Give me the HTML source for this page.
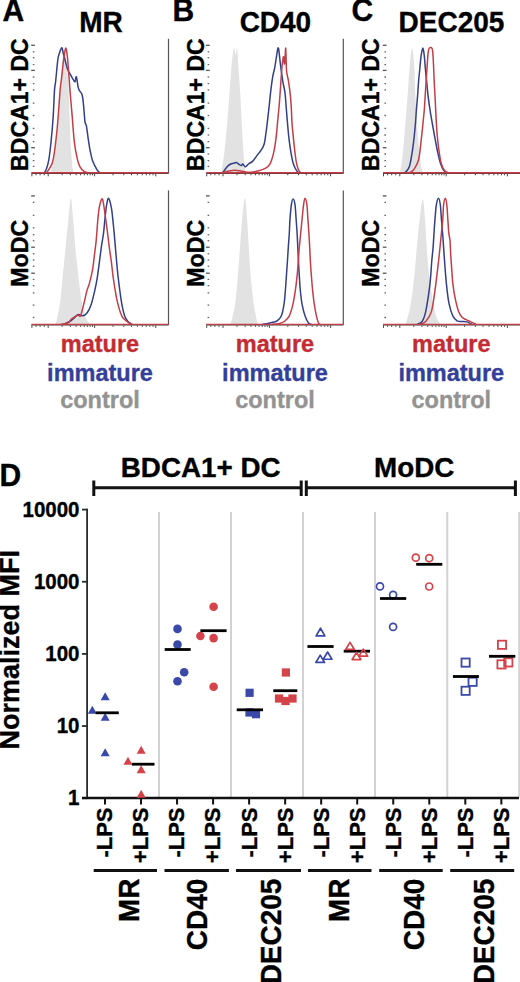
<!DOCTYPE html><html><head><meta charset="utf-8"><style>html,body{margin:0;padding:0;background:#fff;width:520px;height:982px;overflow:hidden}svg{display:block}text{font-family:"Liberation Sans",sans-serif;font-weight:bold}</style></head><body>
<svg width="520" height="982" viewBox="0 0 520 982">
<rect width="520" height="982" fill="#fff"/>
<text transform="translate(2.6,20.8) scale(1,1.04)" font-size="30" text-anchor="start" fill="#000" stroke="#000" stroke-width="0.35">A</text>
<text transform="translate(172.6,20.8) scale(1,1.04)" font-size="30" text-anchor="start" fill="#000" stroke="#000" stroke-width="0.35">B</text>
<text transform="translate(351.6,20.8) scale(1,1.04)" font-size="30" text-anchor="start" fill="#000" stroke="#000" stroke-width="0.35">C</text>
<text transform="translate(-0.5,485.6) scale(1,1.04)" font-size="30" text-anchor="start" fill="#000" stroke="#000" stroke-width="0.35">D</text>
<text transform="translate(101,31.8) scale(1,1.04)" font-size="28" text-anchor="middle" fill="#000" stroke="#000" stroke-width="0.35">MR</text>
<text transform="translate(275.4,31.8) scale(1,1.04)" font-size="28" text-anchor="middle" fill="#000" stroke="#000" stroke-width="0.35">CD40</text>
<text transform="translate(451.5,31.8) scale(1,1.04)" font-size="28" text-anchor="middle" fill="#000" stroke="#000" stroke-width="0.35">DEC205</text>
<text transform="translate(27.9,104.6) rotate(-90) scale(1,1)" font-size="23" text-anchor="middle" fill="#000" stroke="#000" stroke-width="0.35" textLength="132.6" lengthAdjust="spacingAndGlyphs">BDCA1+ DC</text>
<text transform="translate(28.2,253.3) rotate(-90) scale(1,1)" font-size="23.2" text-anchor="middle" fill="#000" stroke="#000" stroke-width="0.35">MoDC</text>
<text transform="translate(203.7,104.6) rotate(-90) scale(1,1)" font-size="23" text-anchor="middle" fill="#000" stroke="#000" stroke-width="0.35" textLength="132.6" lengthAdjust="spacingAndGlyphs">BDCA1+ DC</text>
<text transform="translate(204,253.3) rotate(-90) scale(1,1)" font-size="23.2" text-anchor="middle" fill="#000" stroke="#000" stroke-width="0.35">MoDC</text>
<text transform="translate(379.1,104.6) rotate(-90) scale(1,1)" font-size="23" text-anchor="middle" fill="#000" stroke="#000" stroke-width="0.35" textLength="132.6" lengthAdjust="spacingAndGlyphs">BDCA1+ DC</text>
<text transform="translate(379.4,253.3) rotate(-90) scale(1,1)" font-size="23.2" text-anchor="middle" fill="#000" stroke="#000" stroke-width="0.35">MoDC</text>
<path d="M50.5 172.8 C51 170.63 52.33 167.05 53.5 159.8 C54.67 152.55 56.37 140.8 57.5 129.3 C58.63 117.8 59.55 101.05 60.3 90.8 C61.05 80.55 61.45 74.8 62 67.8 C62.55 60.8 63.02 50.97 63.6 48.8 C64.18 46.63 64.85 50.8 65.5 54.8 C66.15 58.8 66.97 66.8 67.5 72.8 C68.03 78.8 68.35 83.47 68.7 90.8 C69.05 98.13 69.28 108.13 69.6 116.8 C69.92 125.47 70.23 135.63 70.6 142.8 C70.97 149.97 71.4 155.13 71.8 159.8 C72.2 164.47 72.63 168.63 73 170.8 C73.37 172.8 73.83 172.47 74 172.8 Z" fill="#e2e2e2"/>
<line x1="31.4" y1="173.4" x2="168.5" y2="173.4" stroke="#3a3a3a" stroke-width="1.2"/>
<line x1="31.9" y1="173.8" x2="31.9" y2="176.3" stroke="#444" stroke-width="1"/>
<line x1="36" y1="173.8" x2="36" y2="175.3" stroke="#444" stroke-width="1"/>
<line x1="40.1" y1="173.8" x2="40.1" y2="175.3" stroke="#444" stroke-width="1"/>
<line x1="44.2" y1="173.8" x2="44.2" y2="175.3" stroke="#444" stroke-width="1"/>
<line x1="48.2" y1="173.8" x2="48.2" y2="176.3" stroke="#444" stroke-width="1"/>
<line x1="62.17" y1="173.8" x2="62.17" y2="175.3" stroke="#444" stroke-width="1"/>
<line x1="70.34" y1="173.8" x2="70.34" y2="175.3" stroke="#444" stroke-width="1"/>
<line x1="76.14" y1="173.8" x2="76.14" y2="175.3" stroke="#444" stroke-width="1"/>
<line x1="80.63" y1="173.8" x2="80.63" y2="175.3" stroke="#444" stroke-width="1"/>
<line x1="84.31" y1="173.8" x2="84.31" y2="175.3" stroke="#444" stroke-width="1"/>
<line x1="87.41" y1="173.8" x2="87.41" y2="175.3" stroke="#444" stroke-width="1"/>
<line x1="90.1" y1="173.8" x2="90.1" y2="175.3" stroke="#444" stroke-width="1"/>
<line x1="92.48" y1="173.8" x2="92.48" y2="175.3" stroke="#444" stroke-width="1"/>
<line x1="94.6" y1="173.8" x2="94.6" y2="176.3" stroke="#444" stroke-width="1"/>
<line x1="113.02" y1="173.8" x2="113.02" y2="175.3" stroke="#444" stroke-width="1"/>
<line x1="123.8" y1="173.8" x2="123.8" y2="175.3" stroke="#444" stroke-width="1"/>
<line x1="131.45" y1="173.8" x2="131.45" y2="175.3" stroke="#444" stroke-width="1"/>
<line x1="137.38" y1="173.8" x2="137.38" y2="175.3" stroke="#444" stroke-width="1"/>
<line x1="142.22" y1="173.8" x2="142.22" y2="175.3" stroke="#444" stroke-width="1"/>
<line x1="146.32" y1="173.8" x2="146.32" y2="175.3" stroke="#444" stroke-width="1"/>
<line x1="149.87" y1="173.8" x2="149.87" y2="175.3" stroke="#444" stroke-width="1"/>
<line x1="153" y1="173.8" x2="153" y2="175.3" stroke="#444" stroke-width="1"/>
<line x1="155.8" y1="173.8" x2="155.8" y2="176.3" stroke="#444" stroke-width="1"/>
<line x1="31.2" y1="45.3" x2="34.9" y2="45.3" stroke="#555" stroke-width="1.3"/>
<line x1="32.8" y1="51.8" x2="34.4" y2="51.8" stroke="#666" stroke-width="1.3"/>
<line x1="32.8" y1="57.7" x2="34.4" y2="57.7" stroke="#666" stroke-width="1.3"/>
<line x1="32.8" y1="64.6" x2="34.4" y2="64.6" stroke="#666" stroke-width="1.3"/>
<line x1="31.2" y1="70.4" x2="34.9" y2="70.4" stroke="#555" stroke-width="1.3"/>
<line x1="32.8" y1="77" x2="34.4" y2="77" stroke="#666" stroke-width="1.3"/>
<line x1="32.8" y1="83.6" x2="34.4" y2="83.6" stroke="#666" stroke-width="1.3"/>
<line x1="32.8" y1="89.9" x2="34.4" y2="89.9" stroke="#666" stroke-width="1.3"/>
<line x1="32.8" y1="103.1" x2="34.4" y2="103.1" stroke="#666" stroke-width="1.3"/>
<line x1="32.8" y1="115.5" x2="34.4" y2="115.5" stroke="#666" stroke-width="1.3"/>
<line x1="32.8" y1="128.4" x2="34.4" y2="128.4" stroke="#666" stroke-width="1.3"/>
<line x1="32.8" y1="135" x2="34.4" y2="135" stroke="#666" stroke-width="1.3"/>
<line x1="32.8" y1="141.6" x2="34.4" y2="141.6" stroke="#666" stroke-width="1.3"/>
<line x1="31.2" y1="147.7" x2="34.9" y2="147.7" stroke="#555" stroke-width="1.3"/>
<line x1="32.8" y1="154" x2="34.4" y2="154" stroke="#666" stroke-width="1.3"/>
<line x1="32.8" y1="160.6" x2="34.4" y2="160.6" stroke="#666" stroke-width="1.3"/>
<line x1="32.8" y1="166.4" x2="34.4" y2="166.4" stroke="#666" stroke-width="1.3"/>
<line x1="168.5" y1="38.8" x2="168.5" y2="173.4" stroke="#555" stroke-width="1.2"/>
<path d="M44.3 172.8 C44.67 172.13 45.73 171.03 46.5 168.8 C47.27 166.57 48.15 163.82 48.9 159.4 C49.65 154.98 50.28 149.47 51 142.3 C51.72 135.13 52.62 125.05 53.2 116.4 C53.78 107.75 54.08 96.33 54.5 90.4 C54.92 84.47 55.15 85.9 55.7 80.8 C56.25 75.7 57.22 64.3 57.8 59.8 C58.38 55.3 58.55 55.8 59.2 53.8 C59.85 51.8 61.05 47.97 61.7 47.8 C62.35 47.63 62.55 50.8 63.1 52.8 C63.65 54.8 64.28 57.13 65 59.8 C65.72 62.47 66.57 66.47 67.4 68.8 C68.23 71.13 69.1 72.13 70 73.8 C70.9 75.47 71.97 77.47 72.8 78.8 C73.63 80.13 74.4 82.13 75 81.8 C75.6 81.47 75.8 75.63 76.4 76.8 C77 77.97 77.65 85.8 78.6 88.8 C79.55 91.8 81.27 91.97 82.1 94.8 C82.93 97.63 83.12 101.3 83.6 105.8 C84.08 110.3 84.53 118.47 85 121.8 C85.47 125.13 85.93 123.47 86.4 125.8 C86.87 128.13 87.2 131.8 87.8 135.8 C88.4 139.8 89.17 145.55 90 149.8 C90.83 154.05 91.62 157.97 92.8 161.3 C93.98 164.63 95.9 167.88 97.1 169.8 C98.3 171.72 99.52 172.3 100 172.8" fill="none" stroke="#333f88" stroke-width="1.5" stroke-linejoin="round"/>
<path d="M46.4 172.8 C46.95 172.03 48.57 170.43 49.7 168.2 C50.83 165.97 51.97 165.88 53.2 159.4 C54.43 152.92 55.95 140.8 57.1 129.3 C58.25 117.8 59.35 98.98 60.1 90.4 C60.85 81.82 61.02 82.9 61.6 77.8 C62.18 72.7 62.92 64.75 63.6 59.8 C64.28 54.85 65.07 48.57 65.7 48.1 C66.33 47.63 66.87 52.45 67.4 57 C67.93 61.55 68.47 69.83 68.9 75.4 C69.33 80.97 69.45 83.57 70 90.4 C70.55 97.23 71.47 107.75 72.2 116.4 C72.93 125.05 73.53 135.13 74.4 142.3 C75.27 149.47 76.47 155.32 77.4 159.4 C78.33 163.48 78.9 164.82 80 166.8 C81.1 168.78 82.67 170.3 84 171.3 C85.33 172.3 87.33 172.55 88 172.8" fill="none" stroke="#c33d47" stroke-width="1.5" stroke-linejoin="round"/>
<line x1="31.4" y1="172.8" x2="168.5" y2="172.8" stroke="#c33d47" stroke-width="1.4"/>
<path d="M221.4 172.8 C221.88 169.47 223.35 160.93 224.3 152.8 C225.25 144.67 226.27 133.5 227.1 124 C227.93 114.5 228.58 105.33 229.3 95.8 C230.02 86.27 230.7 74.47 231.4 66.8 C232.1 59.13 233.02 52.87 233.5 49.8 C233.98 46.73 233.93 47.57 234.3 48.4 C234.67 49.23 235.23 54.8 235.7 54.8 C236.17 54.8 236.63 46.4 237.1 48.4 C237.57 50.4 237.95 58.9 238.5 66.8 C239.05 74.7 239.85 86.27 240.4 95.8 C240.95 105.33 241.28 114.5 241.8 124 C242.32 133.5 242.97 145.5 243.5 152.8 C244.03 160.1 244.63 164.47 245 167.8 C245.37 171.13 245.58 171.97 245.7 172.8 Z" fill="#e2e2e2"/>
<line x1="206.2" y1="173.4" x2="343.3" y2="173.4" stroke="#3a3a3a" stroke-width="1.2"/>
<line x1="206.7" y1="173.8" x2="206.7" y2="176.3" stroke="#444" stroke-width="1"/>
<line x1="210.8" y1="173.8" x2="210.8" y2="175.3" stroke="#444" stroke-width="1"/>
<line x1="214.9" y1="173.8" x2="214.9" y2="175.3" stroke="#444" stroke-width="1"/>
<line x1="219" y1="173.8" x2="219" y2="175.3" stroke="#444" stroke-width="1"/>
<line x1="223" y1="173.8" x2="223" y2="176.3" stroke="#444" stroke-width="1"/>
<line x1="236.97" y1="173.8" x2="236.97" y2="175.3" stroke="#444" stroke-width="1"/>
<line x1="245.14" y1="173.8" x2="245.14" y2="175.3" stroke="#444" stroke-width="1"/>
<line x1="250.94" y1="173.8" x2="250.94" y2="175.3" stroke="#444" stroke-width="1"/>
<line x1="255.43" y1="173.8" x2="255.43" y2="175.3" stroke="#444" stroke-width="1"/>
<line x1="259.11" y1="173.8" x2="259.11" y2="175.3" stroke="#444" stroke-width="1"/>
<line x1="262.21" y1="173.8" x2="262.21" y2="175.3" stroke="#444" stroke-width="1"/>
<line x1="264.9" y1="173.8" x2="264.9" y2="175.3" stroke="#444" stroke-width="1"/>
<line x1="267.28" y1="173.8" x2="267.28" y2="175.3" stroke="#444" stroke-width="1"/>
<line x1="269.4" y1="173.8" x2="269.4" y2="176.3" stroke="#444" stroke-width="1"/>
<line x1="287.82" y1="173.8" x2="287.82" y2="175.3" stroke="#444" stroke-width="1"/>
<line x1="298.6" y1="173.8" x2="298.6" y2="175.3" stroke="#444" stroke-width="1"/>
<line x1="306.25" y1="173.8" x2="306.25" y2="175.3" stroke="#444" stroke-width="1"/>
<line x1="312.18" y1="173.8" x2="312.18" y2="175.3" stroke="#444" stroke-width="1"/>
<line x1="317.02" y1="173.8" x2="317.02" y2="175.3" stroke="#444" stroke-width="1"/>
<line x1="321.12" y1="173.8" x2="321.12" y2="175.3" stroke="#444" stroke-width="1"/>
<line x1="324.67" y1="173.8" x2="324.67" y2="175.3" stroke="#444" stroke-width="1"/>
<line x1="327.8" y1="173.8" x2="327.8" y2="175.3" stroke="#444" stroke-width="1"/>
<line x1="330.6" y1="173.8" x2="330.6" y2="176.3" stroke="#444" stroke-width="1"/>
<line x1="206" y1="45.3" x2="209.7" y2="45.3" stroke="#555" stroke-width="1.3"/>
<line x1="207.6" y1="51.8" x2="209.2" y2="51.8" stroke="#666" stroke-width="1.3"/>
<line x1="207.6" y1="57.7" x2="209.2" y2="57.7" stroke="#666" stroke-width="1.3"/>
<line x1="207.6" y1="64.6" x2="209.2" y2="64.6" stroke="#666" stroke-width="1.3"/>
<line x1="206" y1="70.4" x2="209.7" y2="70.4" stroke="#555" stroke-width="1.3"/>
<line x1="207.6" y1="77" x2="209.2" y2="77" stroke="#666" stroke-width="1.3"/>
<line x1="207.6" y1="83.6" x2="209.2" y2="83.6" stroke="#666" stroke-width="1.3"/>
<line x1="207.6" y1="89.9" x2="209.2" y2="89.9" stroke="#666" stroke-width="1.3"/>
<line x1="207.6" y1="103.1" x2="209.2" y2="103.1" stroke="#666" stroke-width="1.3"/>
<line x1="207.6" y1="115.5" x2="209.2" y2="115.5" stroke="#666" stroke-width="1.3"/>
<line x1="207.6" y1="128.4" x2="209.2" y2="128.4" stroke="#666" stroke-width="1.3"/>
<line x1="207.6" y1="135" x2="209.2" y2="135" stroke="#666" stroke-width="1.3"/>
<line x1="207.6" y1="141.6" x2="209.2" y2="141.6" stroke="#666" stroke-width="1.3"/>
<line x1="206" y1="147.7" x2="209.7" y2="147.7" stroke="#555" stroke-width="1.3"/>
<line x1="207.6" y1="154" x2="209.2" y2="154" stroke="#666" stroke-width="1.3"/>
<line x1="207.6" y1="160.6" x2="209.2" y2="160.6" stroke="#666" stroke-width="1.3"/>
<line x1="207.6" y1="166.4" x2="209.2" y2="166.4" stroke="#666" stroke-width="1.3"/>
<line x1="343.3" y1="38.8" x2="343.3" y2="173.4" stroke="#555" stroke-width="1.2"/>
<path d="M222.8 172.8 C223.52 171.8 225.78 168.27 227.1 166.8 C228.42 165.33 229.63 164.58 230.7 164 C231.77 163.42 232.55 163.55 233.5 163.3 C234.45 163.05 235.48 162.33 236.4 162.5 C237.32 162.67 238.17 163.78 239 164.3 C239.83 164.82 240.77 165.65 241.4 165.6 C242.03 165.55 242.15 163.8 242.8 164 C243.45 164.2 244.35 166.8 245.3 166.8 C246.25 166.8 247.25 164.95 248.5 164 C249.75 163.05 251.37 162.53 252.8 161.1 C254.23 159.67 255.68 157.28 257.1 155.4 C258.52 153.52 260.12 151.7 261.3 149.8 C262.48 147.9 263.42 146.83 264.2 144 C264.98 141.17 265.4 137.08 266 132.8 C266.6 128.52 267.22 123.3 267.8 118.3 C268.38 113.3 268.97 107.72 269.5 102.8 C270.03 97.88 270.47 93.13 271 88.8 C271.53 84.47 272.05 80.47 272.7 76.8 C273.35 73.13 274.25 70.3 274.9 66.8 C275.55 63.3 276.02 58.92 276.6 55.8 C277.18 52.68 277.75 46.6 278.4 48.1 C279.05 49.6 279.75 59.18 280.5 64.8 C281.25 70.42 282.15 77.13 282.9 81.8 C283.65 86.47 284.42 88.13 285 92.8 C285.58 97.47 285.97 104.55 286.4 109.8 C286.83 115.05 287.17 119.47 287.6 124.3 C288.03 129.13 288.43 134.05 289 138.8 C289.57 143.55 290.25 148.57 291 152.8 C291.75 157.03 292.48 161.1 293.5 164.2 C294.52 167.3 296.13 169.97 297.1 171.4 C298.07 172.8 298.93 172.57 299.3 172.8" fill="none" stroke="#333f88" stroke-width="1.5" stroke-linejoin="round"/>
<path d="M222 172.8 C223 172.55 225.83 171.72 228 171.3 C230.17 170.88 232.67 170.3 235 170.3 C237.33 170.3 239.5 170.97 242 171.3 C244.5 171.63 247.37 172.33 250 172.3 C252.63 172.27 255.2 171.78 257.8 171.1 C260.4 170.42 263.57 169.42 265.6 168.2 C267.63 166.98 268.67 166.37 270 163.8 C271.33 161.23 272.6 157.05 273.6 152.8 C274.6 148.55 275.37 143.1 276 138.3 C276.63 133.5 276.83 129.92 277.4 124 C277.97 118.08 278.82 109.92 279.4 102.8 C279.98 95.68 280.47 87.3 280.9 81.3 C281.33 75.3 281.67 70.38 282 66.8 C282.33 63.22 282.63 61.47 282.9 59.8 C283.17 58.13 283.32 56.13 283.6 56.8 C283.88 57.47 284.25 65.25 284.6 63.8 C284.95 62.35 285.4 47.27 285.7 48.1 C286 48.93 286.17 64.42 286.4 68.8 C286.63 73.18 286.73 72.23 287.1 74.4 C287.47 76.57 288.05 78.23 288.6 81.8 C289.15 85.37 289.93 91.13 290.4 95.8 C290.87 100.47 291.12 105.05 291.4 109.8 C291.68 114.55 291.75 119.47 292.1 124.3 C292.45 129.13 293.02 134.05 293.5 138.8 C293.98 143.55 294.47 148.57 295 152.8 C295.53 157.03 295.98 161.1 296.7 164.2 C297.42 167.3 298.42 169.97 299.3 171.4 C300.18 172.8 301.55 172.57 302 172.8" fill="none" stroke="#c33d47" stroke-width="1.5" stroke-linejoin="round"/>
<line x1="206.2" y1="172.8" x2="343.3" y2="172.8" stroke="#c33d47" stroke-width="1.4"/>
<path d="M400 172.8 C400.48 169.47 402.02 160.93 402.9 152.8 C403.78 144.67 404.52 133.5 405.3 124 C406.08 114.5 406.87 105.33 407.6 95.8 C408.33 86.27 408.95 74.75 409.7 66.8 C410.45 58.85 411.33 48.1 412.1 48.1 C412.87 48.1 413.75 58.85 414.3 66.8 C414.85 74.75 414.93 86.27 415.4 95.8 C415.87 105.33 416.45 114.5 417.1 124 C417.75 133.5 418.58 145.62 419.3 152.8 C420.02 159.98 420.8 163.77 421.4 167.1 C422 170.43 422.65 171.85 422.9 172.8 Z" fill="#e2e2e2"/>
<line x1="383" y1="173.4" x2="520" y2="173.4" stroke="#3a3a3a" stroke-width="1.2"/>
<line x1="383.5" y1="173.8" x2="383.5" y2="176.3" stroke="#444" stroke-width="1"/>
<line x1="387.6" y1="173.8" x2="387.6" y2="175.3" stroke="#444" stroke-width="1"/>
<line x1="391.7" y1="173.8" x2="391.7" y2="175.3" stroke="#444" stroke-width="1"/>
<line x1="395.8" y1="173.8" x2="395.8" y2="175.3" stroke="#444" stroke-width="1"/>
<line x1="399.8" y1="173.8" x2="399.8" y2="176.3" stroke="#444" stroke-width="1"/>
<line x1="413.77" y1="173.8" x2="413.77" y2="175.3" stroke="#444" stroke-width="1"/>
<line x1="421.94" y1="173.8" x2="421.94" y2="175.3" stroke="#444" stroke-width="1"/>
<line x1="427.74" y1="173.8" x2="427.74" y2="175.3" stroke="#444" stroke-width="1"/>
<line x1="432.23" y1="173.8" x2="432.23" y2="175.3" stroke="#444" stroke-width="1"/>
<line x1="435.91" y1="173.8" x2="435.91" y2="175.3" stroke="#444" stroke-width="1"/>
<line x1="439.01" y1="173.8" x2="439.01" y2="175.3" stroke="#444" stroke-width="1"/>
<line x1="441.7" y1="173.8" x2="441.7" y2="175.3" stroke="#444" stroke-width="1"/>
<line x1="444.08" y1="173.8" x2="444.08" y2="175.3" stroke="#444" stroke-width="1"/>
<line x1="446.2" y1="173.8" x2="446.2" y2="176.3" stroke="#444" stroke-width="1"/>
<line x1="464.62" y1="173.8" x2="464.62" y2="175.3" stroke="#444" stroke-width="1"/>
<line x1="475.4" y1="173.8" x2="475.4" y2="175.3" stroke="#444" stroke-width="1"/>
<line x1="483.05" y1="173.8" x2="483.05" y2="175.3" stroke="#444" stroke-width="1"/>
<line x1="488.98" y1="173.8" x2="488.98" y2="175.3" stroke="#444" stroke-width="1"/>
<line x1="493.82" y1="173.8" x2="493.82" y2="175.3" stroke="#444" stroke-width="1"/>
<line x1="497.92" y1="173.8" x2="497.92" y2="175.3" stroke="#444" stroke-width="1"/>
<line x1="501.47" y1="173.8" x2="501.47" y2="175.3" stroke="#444" stroke-width="1"/>
<line x1="504.6" y1="173.8" x2="504.6" y2="175.3" stroke="#444" stroke-width="1"/>
<line x1="507.4" y1="173.8" x2="507.4" y2="176.3" stroke="#444" stroke-width="1"/>
<line x1="382.8" y1="45.3" x2="386.5" y2="45.3" stroke="#555" stroke-width="1.3"/>
<line x1="384.4" y1="51.8" x2="386" y2="51.8" stroke="#666" stroke-width="1.3"/>
<line x1="384.4" y1="57.7" x2="386" y2="57.7" stroke="#666" stroke-width="1.3"/>
<line x1="384.4" y1="64.6" x2="386" y2="64.6" stroke="#666" stroke-width="1.3"/>
<line x1="382.8" y1="70.4" x2="386.5" y2="70.4" stroke="#555" stroke-width="1.3"/>
<line x1="384.4" y1="77" x2="386" y2="77" stroke="#666" stroke-width="1.3"/>
<line x1="384.4" y1="83.6" x2="386" y2="83.6" stroke="#666" stroke-width="1.3"/>
<line x1="384.4" y1="89.9" x2="386" y2="89.9" stroke="#666" stroke-width="1.3"/>
<line x1="384.4" y1="103.1" x2="386" y2="103.1" stroke="#666" stroke-width="1.3"/>
<line x1="384.4" y1="115.5" x2="386" y2="115.5" stroke="#666" stroke-width="1.3"/>
<line x1="384.4" y1="128.4" x2="386" y2="128.4" stroke="#666" stroke-width="1.3"/>
<line x1="384.4" y1="135" x2="386" y2="135" stroke="#666" stroke-width="1.3"/>
<line x1="384.4" y1="141.6" x2="386" y2="141.6" stroke="#666" stroke-width="1.3"/>
<line x1="382.8" y1="147.7" x2="386.5" y2="147.7" stroke="#555" stroke-width="1.3"/>
<line x1="384.4" y1="154" x2="386" y2="154" stroke="#666" stroke-width="1.3"/>
<line x1="384.4" y1="160.6" x2="386" y2="160.6" stroke="#666" stroke-width="1.3"/>
<line x1="384.4" y1="166.4" x2="386" y2="166.4" stroke="#666" stroke-width="1.3"/>
<path d="M405 172.8 C405.72 171.8 408.12 170.13 409.3 166.8 C410.48 163.47 411.32 157.55 412.1 152.8 C412.88 148.05 413.45 143.1 414 138.3 C414.55 133.5 415 128.75 415.4 124 C415.8 119.25 416.03 114.5 416.4 109.8 C416.77 105.1 417.23 100.55 417.6 95.8 C417.97 91.05 418.2 86.13 418.6 81.3 C419 76.47 419.58 71.05 420 66.8 C420.42 62.55 420.62 58.92 421.1 55.8 C421.58 52.68 422.37 48.1 422.9 48.1 C423.43 48.1 423.92 52.68 424.3 55.8 C424.68 58.92 424.82 62.55 425.2 66.8 C425.58 71.05 426.12 76.47 426.6 81.3 C427.08 86.13 427.53 91.05 428.1 95.8 C428.67 100.55 429.28 105.1 430 109.8 C430.72 114.5 431.57 119.25 432.4 124 C433.23 128.75 434.1 133.5 435 138.3 C435.9 143.1 436.85 148.52 437.8 152.8 C438.75 157.08 439.63 160.95 440.7 164 C441.77 167.05 443.02 169.63 444.2 171.1 C445.38 172.57 447.2 172.52 447.8 172.8" fill="none" stroke="#333f88" stroke-width="1.5" stroke-linejoin="round"/>
<path d="M409.3 172.8 C410.02 172.3 412.05 171.97 413.6 169.8 C415.15 167.63 417.3 165.05 418.6 159.8 C419.9 154.55 420.68 144.27 421.4 138.3 C422.12 132.33 422.42 128.75 422.9 124 C423.38 119.25 423.92 114.5 424.3 109.8 C424.68 105.1 424.9 100.55 425.2 95.8 C425.5 91.05 425.78 86.13 426.1 81.3 C426.42 76.47 426.77 71.55 427.1 66.8 C427.43 62.05 427.73 55.92 428.1 52.8 C428.47 49.68 428.67 48.88 429.3 48.1 C429.93 47.32 431.32 47.32 431.9 48.1 C432.48 48.88 432.52 49.68 432.8 52.8 C433.08 55.92 433.37 62.05 433.6 66.8 C433.83 71.55 433.97 76.47 434.2 81.3 C434.43 86.13 434.75 91.05 435 95.8 C435.25 100.55 435.47 105.1 435.7 109.8 C435.93 114.5 436.1 119.25 436.4 124 C436.7 128.75 437.02 133.5 437.5 138.3 C437.98 143.1 438.65 148.52 439.3 152.8 C439.95 157.08 440.45 160.95 441.4 164 C442.35 167.05 443.68 169.63 445 171.1 C446.32 172.57 448.58 172.52 449.3 172.8" fill="none" stroke="#c33d47" stroke-width="1.5" stroke-linejoin="round"/>
<line x1="383" y1="172.8" x2="520" y2="172.8" stroke="#c33d47" stroke-width="1.4"/>
<path d="M55.6 324.4 C56.3 321.07 58.62 312.48 59.8 304.4 C60.98 296.32 61.73 285.4 62.7 275.9 C63.67 266.4 64.65 256.98 65.6 247.4 C66.55 237.82 67.53 226.57 68.4 218.4 C69.27 210.23 70.02 198.4 70.8 198.4 C71.58 198.4 72.35 210.23 73.1 218.4 C73.85 226.57 74.42 237.82 75.3 247.4 C76.18 256.98 77.28 266.4 78.4 275.9 C79.52 285.4 80.68 297.27 82 304.4 C83.32 311.53 84.88 315.37 86.3 318.7 C87.72 322.03 89.8 323.45 90.5 324.4 Z" fill="#e2e2e2"/>
<line x1="31.4" y1="325" x2="168.5" y2="325" stroke="#3a3a3a" stroke-width="1.2"/>
<line x1="31.9" y1="325.4" x2="31.9" y2="327.9" stroke="#444" stroke-width="1"/>
<line x1="36" y1="325.4" x2="36" y2="326.9" stroke="#444" stroke-width="1"/>
<line x1="40.1" y1="325.4" x2="40.1" y2="326.9" stroke="#444" stroke-width="1"/>
<line x1="44.2" y1="325.4" x2="44.2" y2="326.9" stroke="#444" stroke-width="1"/>
<line x1="48.2" y1="325.4" x2="48.2" y2="327.9" stroke="#444" stroke-width="1"/>
<line x1="62.17" y1="325.4" x2="62.17" y2="326.9" stroke="#444" stroke-width="1"/>
<line x1="70.34" y1="325.4" x2="70.34" y2="326.9" stroke="#444" stroke-width="1"/>
<line x1="76.14" y1="325.4" x2="76.14" y2="326.9" stroke="#444" stroke-width="1"/>
<line x1="80.63" y1="325.4" x2="80.63" y2="326.9" stroke="#444" stroke-width="1"/>
<line x1="84.31" y1="325.4" x2="84.31" y2="326.9" stroke="#444" stroke-width="1"/>
<line x1="87.41" y1="325.4" x2="87.41" y2="326.9" stroke="#444" stroke-width="1"/>
<line x1="90.1" y1="325.4" x2="90.1" y2="326.9" stroke="#444" stroke-width="1"/>
<line x1="92.48" y1="325.4" x2="92.48" y2="326.9" stroke="#444" stroke-width="1"/>
<line x1="94.6" y1="325.4" x2="94.6" y2="327.9" stroke="#444" stroke-width="1"/>
<line x1="113.02" y1="325.4" x2="113.02" y2="326.9" stroke="#444" stroke-width="1"/>
<line x1="123.8" y1="325.4" x2="123.8" y2="326.9" stroke="#444" stroke-width="1"/>
<line x1="131.45" y1="325.4" x2="131.45" y2="326.9" stroke="#444" stroke-width="1"/>
<line x1="137.38" y1="325.4" x2="137.38" y2="326.9" stroke="#444" stroke-width="1"/>
<line x1="142.22" y1="325.4" x2="142.22" y2="326.9" stroke="#444" stroke-width="1"/>
<line x1="146.32" y1="325.4" x2="146.32" y2="326.9" stroke="#444" stroke-width="1"/>
<line x1="149.87" y1="325.4" x2="149.87" y2="326.9" stroke="#444" stroke-width="1"/>
<line x1="153" y1="325.4" x2="153" y2="326.9" stroke="#444" stroke-width="1"/>
<line x1="155.8" y1="325.4" x2="155.8" y2="327.9" stroke="#444" stroke-width="1"/>
<line x1="31.2" y1="195.9" x2="34.9" y2="195.9" stroke="#555" stroke-width="1.3"/>
<line x1="32.8" y1="202.3" x2="34.4" y2="202.3" stroke="#666" stroke-width="1.3"/>
<line x1="32.8" y1="215.3" x2="34.4" y2="215.3" stroke="#666" stroke-width="1.3"/>
<line x1="32.8" y1="227.8" x2="34.4" y2="227.8" stroke="#666" stroke-width="1.3"/>
<line x1="32.8" y1="234.7" x2="34.4" y2="234.7" stroke="#666" stroke-width="1.3"/>
<line x1="32.8" y1="240.7" x2="34.4" y2="240.7" stroke="#666" stroke-width="1.3"/>
<line x1="31.2" y1="247.2" x2="34.9" y2="247.2" stroke="#555" stroke-width="1.3"/>
<line x1="32.8" y1="253.8" x2="34.4" y2="253.8" stroke="#666" stroke-width="1.3"/>
<line x1="32.8" y1="260" x2="34.4" y2="260" stroke="#666" stroke-width="1.3"/>
<line x1="32.8" y1="266.2" x2="34.4" y2="266.2" stroke="#666" stroke-width="1.3"/>
<line x1="31.2" y1="273.2" x2="34.9" y2="273.2" stroke="#555" stroke-width="1.3"/>
<line x1="32.8" y1="279.4" x2="34.4" y2="279.4" stroke="#666" stroke-width="1.3"/>
<line x1="32.8" y1="285.7" x2="34.4" y2="285.7" stroke="#666" stroke-width="1.3"/>
<line x1="32.8" y1="292.9" x2="34.4" y2="292.9" stroke="#666" stroke-width="1.3"/>
<line x1="32.8" y1="305.1" x2="34.4" y2="305.1" stroke="#666" stroke-width="1.3"/>
<line x1="32.8" y1="317.5" x2="34.4" y2="317.5" stroke="#666" stroke-width="1.3"/>
<line x1="168.5" y1="190.4" x2="168.5" y2="325" stroke="#555" stroke-width="1.2"/>
<path d="M63.4 324.4 C64.47 323.92 67.9 322.67 69.8 321.5 C71.7 320.33 73.37 318.58 74.8 317.4 C76.23 316.22 77.08 314.67 78.4 314.4 C79.72 314.13 81.27 316.03 82.7 315.8 C84.13 315.57 85.58 314.9 87 313 C88.42 311.1 89.9 308.17 91.2 304.4 C92.5 300.63 93.83 294.57 94.8 290.4 C95.77 286.23 96.38 283 97 279.4 C97.62 275.8 97.78 274.13 98.5 268.8 C99.22 263.47 100.47 253.3 101.3 247.4 C102.13 241.5 102.88 238.23 103.5 233.4 C104.12 228.57 104.47 223.23 105 218.4 C105.53 213.57 106.08 207.73 106.7 204.4 C107.32 201.07 107.93 197.9 108.7 198.4 C109.47 198.9 110.63 204.07 111.3 207.4 C111.97 210.73 112.22 214.07 112.7 218.4 C113.18 222.73 113.75 228.57 114.2 233.4 C114.65 238.23 115 242.73 115.4 247.4 C115.8 252.07 116.17 256.65 116.6 261.4 C117.03 266.15 117.47 271.07 118 275.9 C118.53 280.73 119.15 285.65 119.8 290.4 C120.45 295.15 121.12 300.23 121.9 304.4 C122.68 308.57 123.5 312.55 124.5 315.4 C125.5 318.25 126.63 320 127.9 321.5 C129.17 323 131.4 323.92 132.1 324.4" fill="none" stroke="#333f88" stroke-width="1.5" stroke-linejoin="round"/>
<path d="M60.6 324.4 C61.78 324.17 65.8 323.95 67.7 323 C69.6 322.05 70.33 320.02 72 318.7 C73.67 317.38 76.28 315.58 77.7 315.1 C79.12 314.62 79.5 317.58 80.5 315.8 C81.5 314.02 82.62 308.63 83.7 304.4 C84.78 300.17 86.05 293.9 87 290.4 C87.95 286.9 88.45 287 89.4 283.4 C90.35 279.8 91.85 273.63 92.7 268.8 C93.55 263.97 93.92 259.13 94.5 254.4 C95.08 249.67 95.63 246.32 96.2 240.4 C96.77 234.48 97.38 224.4 97.9 218.9 C98.42 213.4 98.63 210.73 99.3 207.4 C99.97 204.07 101.18 199.4 101.9 198.9 C102.62 198.4 102.98 201.15 103.6 204.4 C104.22 207.65 104.93 213.57 105.6 218.4 C106.27 223.23 106.98 228.57 107.6 233.4 C108.22 238.23 108.68 242.73 109.3 247.4 C109.92 252.07 110.68 256.65 111.3 261.4 C111.92 266.15 112.35 271.07 113 275.9 C113.65 280.73 114.37 285.65 115.2 290.4 C116.03 295.15 116.87 300.07 118 304.4 C119.13 308.73 120.48 313.55 122 316.4 C123.52 319.25 125.53 320.17 127.1 321.5 C128.67 322.83 130.68 323.92 131.4 324.4" fill="none" stroke="#c33d47" stroke-width="1.5" stroke-linejoin="round"/>
<line x1="31.4" y1="324.4" x2="168.5" y2="324.4" stroke="#c33d47" stroke-width="1.4"/>
<path d="M230.7 324.4 C231.42 321.07 233.82 312.48 235 304.4 C236.18 296.32 236.97 285.4 237.8 275.9 C238.63 266.4 239.28 256.9 240 247.4 C240.72 237.9 241.27 227.1 242.1 218.9 C242.93 210.7 244.17 198.2 245 198.2 C245.83 198.2 246.47 210.7 247.1 218.9 C247.73 227.1 248.2 237.9 248.8 247.4 C249.4 256.9 249.87 266.4 250.7 275.9 C251.53 285.4 252.85 297.27 253.8 304.4 C254.75 311.53 255.73 315.37 256.4 318.7 C257.07 322.03 257.57 323.45 257.8 324.4 Z" fill="#e2e2e2"/>
<line x1="206.2" y1="325" x2="343.3" y2="325" stroke="#3a3a3a" stroke-width="1.2"/>
<line x1="206.7" y1="325.4" x2="206.7" y2="327.9" stroke="#444" stroke-width="1"/>
<line x1="210.8" y1="325.4" x2="210.8" y2="326.9" stroke="#444" stroke-width="1"/>
<line x1="214.9" y1="325.4" x2="214.9" y2="326.9" stroke="#444" stroke-width="1"/>
<line x1="219" y1="325.4" x2="219" y2="326.9" stroke="#444" stroke-width="1"/>
<line x1="223" y1="325.4" x2="223" y2="327.9" stroke="#444" stroke-width="1"/>
<line x1="236.97" y1="325.4" x2="236.97" y2="326.9" stroke="#444" stroke-width="1"/>
<line x1="245.14" y1="325.4" x2="245.14" y2="326.9" stroke="#444" stroke-width="1"/>
<line x1="250.94" y1="325.4" x2="250.94" y2="326.9" stroke="#444" stroke-width="1"/>
<line x1="255.43" y1="325.4" x2="255.43" y2="326.9" stroke="#444" stroke-width="1"/>
<line x1="259.11" y1="325.4" x2="259.11" y2="326.9" stroke="#444" stroke-width="1"/>
<line x1="262.21" y1="325.4" x2="262.21" y2="326.9" stroke="#444" stroke-width="1"/>
<line x1="264.9" y1="325.4" x2="264.9" y2="326.9" stroke="#444" stroke-width="1"/>
<line x1="267.28" y1="325.4" x2="267.28" y2="326.9" stroke="#444" stroke-width="1"/>
<line x1="269.4" y1="325.4" x2="269.4" y2="327.9" stroke="#444" stroke-width="1"/>
<line x1="287.82" y1="325.4" x2="287.82" y2="326.9" stroke="#444" stroke-width="1"/>
<line x1="298.6" y1="325.4" x2="298.6" y2="326.9" stroke="#444" stroke-width="1"/>
<line x1="306.25" y1="325.4" x2="306.25" y2="326.9" stroke="#444" stroke-width="1"/>
<line x1="312.18" y1="325.4" x2="312.18" y2="326.9" stroke="#444" stroke-width="1"/>
<line x1="317.02" y1="325.4" x2="317.02" y2="326.9" stroke="#444" stroke-width="1"/>
<line x1="321.12" y1="325.4" x2="321.12" y2="326.9" stroke="#444" stroke-width="1"/>
<line x1="324.67" y1="325.4" x2="324.67" y2="326.9" stroke="#444" stroke-width="1"/>
<line x1="327.8" y1="325.4" x2="327.8" y2="326.9" stroke="#444" stroke-width="1"/>
<line x1="330.6" y1="325.4" x2="330.6" y2="327.9" stroke="#444" stroke-width="1"/>
<line x1="206" y1="195.9" x2="209.7" y2="195.9" stroke="#555" stroke-width="1.3"/>
<line x1="207.6" y1="202.3" x2="209.2" y2="202.3" stroke="#666" stroke-width="1.3"/>
<line x1="207.6" y1="215.3" x2="209.2" y2="215.3" stroke="#666" stroke-width="1.3"/>
<line x1="207.6" y1="227.8" x2="209.2" y2="227.8" stroke="#666" stroke-width="1.3"/>
<line x1="207.6" y1="234.7" x2="209.2" y2="234.7" stroke="#666" stroke-width="1.3"/>
<line x1="207.6" y1="240.7" x2="209.2" y2="240.7" stroke="#666" stroke-width="1.3"/>
<line x1="206" y1="247.2" x2="209.7" y2="247.2" stroke="#555" stroke-width="1.3"/>
<line x1="207.6" y1="253.8" x2="209.2" y2="253.8" stroke="#666" stroke-width="1.3"/>
<line x1="207.6" y1="260" x2="209.2" y2="260" stroke="#666" stroke-width="1.3"/>
<line x1="207.6" y1="266.2" x2="209.2" y2="266.2" stroke="#666" stroke-width="1.3"/>
<line x1="206" y1="273.2" x2="209.7" y2="273.2" stroke="#555" stroke-width="1.3"/>
<line x1="207.6" y1="279.4" x2="209.2" y2="279.4" stroke="#666" stroke-width="1.3"/>
<line x1="207.6" y1="285.7" x2="209.2" y2="285.7" stroke="#666" stroke-width="1.3"/>
<line x1="207.6" y1="292.9" x2="209.2" y2="292.9" stroke="#666" stroke-width="1.3"/>
<line x1="207.6" y1="305.1" x2="209.2" y2="305.1" stroke="#666" stroke-width="1.3"/>
<line x1="207.6" y1="317.5" x2="209.2" y2="317.5" stroke="#666" stroke-width="1.3"/>
<line x1="343.3" y1="190.4" x2="343.3" y2="325" stroke="#555" stroke-width="1.2"/>
<path d="M262 324.4 C263 324.23 266.18 323.75 268 323.4 C269.82 323.05 271.38 322.73 272.9 322.3 C274.42 321.87 275.68 321.88 277.1 320.8 C278.52 319.72 280.25 318.53 281.4 315.8 C282.55 313.07 283.33 308.67 284 304.4 C284.67 300.13 285 294.95 285.4 290.2 C285.8 285.45 286.07 280.65 286.4 275.9 C286.73 271.15 287.08 266.45 287.4 261.7 C287.72 256.95 287.98 252.15 288.3 247.4 C288.62 242.65 289.02 237.95 289.3 233.2 C289.58 228.45 289.65 223.67 290 218.9 C290.35 214.13 290.88 207.93 291.4 204.6 C291.92 201.27 292.5 198.9 293.1 198.9 C293.7 198.9 294.5 201.27 295 204.6 C295.5 207.93 295.75 214.13 296.1 218.9 C296.45 223.67 296.82 228.45 297.1 233.2 C297.38 237.95 297.57 242.65 297.8 247.4 C298.03 252.15 298.25 256.95 298.5 261.7 C298.75 266.45 299 271.15 299.3 275.9 C299.6 280.65 299.83 285.45 300.3 290.2 C300.77 294.95 301.32 300.13 302.1 304.4 C302.88 308.67 303.93 312.7 305 315.8 C306.07 318.9 307.43 321.57 308.5 323 C309.57 324.4 310.92 324.17 311.4 324.4" fill="none" stroke="#333f88" stroke-width="1.5" stroke-linejoin="round"/>
<path d="M272 324.4 C273.1 324.28 276.55 324.18 278.6 323.7 C280.65 323.22 282.52 322.82 284.3 321.5 C286.08 320.18 287.87 318.65 289.3 315.8 C290.73 312.95 291.88 308.67 292.9 304.4 C293.92 300.13 294.7 294.95 295.4 290.2 C296.1 285.45 296.62 280.65 297.1 275.9 C297.58 271.15 297.93 266.45 298.3 261.7 C298.67 256.95 298.9 252.15 299.3 247.4 C299.7 242.65 300.23 237.95 300.7 233.2 C301.17 228.45 301.62 223.67 302.1 218.9 C302.58 214.13 303.12 208.05 303.6 204.6 C304.08 201.15 304.45 198.2 305 198.2 C305.55 198.2 306.42 201.15 306.9 204.6 C307.38 208.05 307.57 214.13 307.9 218.9 C308.23 223.67 308.6 228.45 308.9 233.2 C309.2 237.95 309.45 242.65 309.7 247.4 C309.95 252.15 310.12 256.95 310.4 261.7 C310.68 266.45 311.03 271.15 311.4 275.9 C311.77 280.65 312.12 285.45 312.6 290.2 C313.08 294.95 313.67 300.13 314.3 304.4 C314.93 308.67 315.7 312.7 316.4 315.8 C317.1 318.9 317.9 321.57 318.5 323 C319.1 324.4 319.75 324.17 320 324.4" fill="none" stroke="#c33d47" stroke-width="1.5" stroke-linejoin="round"/>
<line x1="206.2" y1="324.4" x2="343.3" y2="324.4" stroke="#c33d47" stroke-width="1.4"/>
<path d="M405.7 324.4 C406.53 321.07 409.27 312.48 410.7 304.4 C412.13 296.32 413.28 285.4 414.3 275.9 C415.32 266.4 415.9 256.9 416.8 247.4 C417.7 237.9 418.7 226.98 419.7 218.9 C420.7 210.82 421.92 198.9 422.8 198.9 C423.68 198.9 424.33 210.82 425 218.9 C425.67 226.98 426.1 237.9 426.8 247.4 C427.5 256.9 428.08 266.4 429.2 275.9 C430.32 285.4 432.18 297.27 433.5 304.4 C434.82 311.53 435.78 315.37 437.1 318.7 C438.42 322.03 440.68 323.45 441.4 324.4 Z" fill="#e2e2e2"/>
<line x1="383" y1="325" x2="520" y2="325" stroke="#3a3a3a" stroke-width="1.2"/>
<line x1="383.5" y1="325.4" x2="383.5" y2="327.9" stroke="#444" stroke-width="1"/>
<line x1="387.6" y1="325.4" x2="387.6" y2="326.9" stroke="#444" stroke-width="1"/>
<line x1="391.7" y1="325.4" x2="391.7" y2="326.9" stroke="#444" stroke-width="1"/>
<line x1="395.8" y1="325.4" x2="395.8" y2="326.9" stroke="#444" stroke-width="1"/>
<line x1="399.8" y1="325.4" x2="399.8" y2="327.9" stroke="#444" stroke-width="1"/>
<line x1="413.77" y1="325.4" x2="413.77" y2="326.9" stroke="#444" stroke-width="1"/>
<line x1="421.94" y1="325.4" x2="421.94" y2="326.9" stroke="#444" stroke-width="1"/>
<line x1="427.74" y1="325.4" x2="427.74" y2="326.9" stroke="#444" stroke-width="1"/>
<line x1="432.23" y1="325.4" x2="432.23" y2="326.9" stroke="#444" stroke-width="1"/>
<line x1="435.91" y1="325.4" x2="435.91" y2="326.9" stroke="#444" stroke-width="1"/>
<line x1="439.01" y1="325.4" x2="439.01" y2="326.9" stroke="#444" stroke-width="1"/>
<line x1="441.7" y1="325.4" x2="441.7" y2="326.9" stroke="#444" stroke-width="1"/>
<line x1="444.08" y1="325.4" x2="444.08" y2="326.9" stroke="#444" stroke-width="1"/>
<line x1="446.2" y1="325.4" x2="446.2" y2="327.9" stroke="#444" stroke-width="1"/>
<line x1="464.62" y1="325.4" x2="464.62" y2="326.9" stroke="#444" stroke-width="1"/>
<line x1="475.4" y1="325.4" x2="475.4" y2="326.9" stroke="#444" stroke-width="1"/>
<line x1="483.05" y1="325.4" x2="483.05" y2="326.9" stroke="#444" stroke-width="1"/>
<line x1="488.98" y1="325.4" x2="488.98" y2="326.9" stroke="#444" stroke-width="1"/>
<line x1="493.82" y1="325.4" x2="493.82" y2="326.9" stroke="#444" stroke-width="1"/>
<line x1="497.92" y1="325.4" x2="497.92" y2="326.9" stroke="#444" stroke-width="1"/>
<line x1="501.47" y1="325.4" x2="501.47" y2="326.9" stroke="#444" stroke-width="1"/>
<line x1="504.6" y1="325.4" x2="504.6" y2="326.9" stroke="#444" stroke-width="1"/>
<line x1="507.4" y1="325.4" x2="507.4" y2="327.9" stroke="#444" stroke-width="1"/>
<line x1="382.8" y1="195.9" x2="386.5" y2="195.9" stroke="#555" stroke-width="1.3"/>
<line x1="384.4" y1="202.3" x2="386" y2="202.3" stroke="#666" stroke-width="1.3"/>
<line x1="384.4" y1="215.3" x2="386" y2="215.3" stroke="#666" stroke-width="1.3"/>
<line x1="384.4" y1="227.8" x2="386" y2="227.8" stroke="#666" stroke-width="1.3"/>
<line x1="384.4" y1="234.7" x2="386" y2="234.7" stroke="#666" stroke-width="1.3"/>
<line x1="384.4" y1="240.7" x2="386" y2="240.7" stroke="#666" stroke-width="1.3"/>
<line x1="382.8" y1="247.2" x2="386.5" y2="247.2" stroke="#555" stroke-width="1.3"/>
<line x1="384.4" y1="253.8" x2="386" y2="253.8" stroke="#666" stroke-width="1.3"/>
<line x1="384.4" y1="260" x2="386" y2="260" stroke="#666" stroke-width="1.3"/>
<line x1="384.4" y1="266.2" x2="386" y2="266.2" stroke="#666" stroke-width="1.3"/>
<line x1="382.8" y1="273.2" x2="386.5" y2="273.2" stroke="#555" stroke-width="1.3"/>
<line x1="384.4" y1="279.4" x2="386" y2="279.4" stroke="#666" stroke-width="1.3"/>
<line x1="384.4" y1="285.7" x2="386" y2="285.7" stroke="#666" stroke-width="1.3"/>
<line x1="384.4" y1="292.9" x2="386" y2="292.9" stroke="#666" stroke-width="1.3"/>
<line x1="384.4" y1="305.1" x2="386" y2="305.1" stroke="#666" stroke-width="1.3"/>
<line x1="384.4" y1="317.5" x2="386" y2="317.5" stroke="#666" stroke-width="1.3"/>
<path d="M417.1 324.4 C417.93 323.92 420.67 323.63 422.1 321.5 C423.53 319.37 424.52 316.82 425.7 311.6 C426.88 306.38 428.37 296.15 429.2 290.2 C430.03 284.25 430.28 280.65 430.7 275.9 C431.12 271.15 431.3 266.45 431.7 261.7 C432.1 256.95 432.72 252.15 433.1 247.4 C433.48 242.65 433.68 237.95 434 233.2 C434.32 228.45 434.6 223.67 435 218.9 C435.4 214.13 435.82 208.05 436.4 204.6 C436.98 201.15 437.85 198.2 438.5 198.2 C439.15 198.2 439.82 201.15 440.3 204.6 C440.78 208.05 441.02 214.13 441.4 218.9 C441.78 223.67 442.23 228.45 442.6 233.2 C442.97 237.95 443.27 242.65 443.6 247.4 C443.93 252.15 444.25 256.95 444.6 261.7 C444.95 266.45 445.28 271.15 445.7 275.9 C446.12 280.65 446.52 285.45 447.1 290.2 C447.68 294.95 448.25 300.13 449.2 304.4 C450.15 308.67 451.48 313.07 452.8 315.8 C454.12 318.53 455.57 319.85 457.1 320.8 C458.63 321.75 460.35 321.32 462 321.5 C463.65 321.68 465.33 321.42 467 321.9 C468.67 322.38 471.17 323.98 472 324.4" fill="none" stroke="#333f88" stroke-width="1.5" stroke-linejoin="round"/>
<path d="M420 324.4 C420.95 323.92 423.8 323.63 425.7 321.5 C427.6 319.37 429.85 316.82 431.4 311.6 C432.95 306.38 434.1 296.15 435 290.2 C435.9 284.25 436.22 280.65 436.8 275.9 C437.38 271.15 437.97 266.45 438.5 261.7 C439.03 256.95 439.52 252.15 440 247.4 C440.48 242.65 440.93 237.95 441.4 233.2 C441.87 228.45 442.43 223.67 442.8 218.9 C443.17 214.13 443.17 208.05 443.6 204.6 C444.03 201.15 444.87 198.2 445.4 198.2 C445.93 198.2 446.4 201.15 446.8 204.6 C447.2 208.05 447.47 214.13 447.8 218.9 C448.13 223.67 448.43 229.62 448.8 233.2 C449.17 236.78 449.68 236.87 450 240.4 C450.32 243.93 450.42 249.67 450.7 254.4 C450.98 259.13 451.35 264.02 451.7 268.8 C452.05 273.58 452.25 278.33 452.8 283.1 C453.35 287.87 454.03 292.65 455 297.4 C455.97 302.15 457.42 308.28 458.6 311.6 C459.78 314.92 460.92 316 462.1 317.3 C463.28 318.6 464.62 318.82 465.7 319.4 C466.78 319.98 467.55 320.3 468.6 320.8 C469.65 321.3 470.77 321.8 472 322.4 C473.23 323 475.33 324.07 476 324.4" fill="none" stroke="#c33d47" stroke-width="1.5" stroke-linejoin="round"/>
<line x1="383" y1="324.4" x2="520" y2="324.4" stroke="#c33d47" stroke-width="1.4"/>
<text transform="translate(100,352.4) scale(1,1.04)" font-size="23.5" text-anchor="middle" fill="#c42c33" stroke="#c42c33" stroke-width="0.35">mature</text>
<text transform="translate(100,381) scale(1,1.04)" font-size="23.5" text-anchor="middle" fill="#343f9a" stroke="#343f9a" stroke-width="0.35">immature</text>
<text transform="translate(100,408.4) scale(1,1.04)" font-size="23.5" text-anchor="middle" fill="#939393" stroke="#939393" stroke-width="0.35">control</text>
<text transform="translate(275,352.4) scale(1,1.04)" font-size="23.5" text-anchor="middle" fill="#c42c33" stroke="#c42c33" stroke-width="0.35">mature</text>
<text transform="translate(275,381) scale(1,1.04)" font-size="23.5" text-anchor="middle" fill="#343f9a" stroke="#343f9a" stroke-width="0.35">immature</text>
<text transform="translate(275,408.4) scale(1,1.04)" font-size="23.5" text-anchor="middle" fill="#939393" stroke="#939393" stroke-width="0.35">control</text>
<text transform="translate(451.3,352.4) scale(1,1.04)" font-size="23.5" text-anchor="middle" fill="#c42c33" stroke="#c42c33" stroke-width="0.35">mature</text>
<text transform="translate(451.3,381) scale(1,1.04)" font-size="23.5" text-anchor="middle" fill="#343f9a" stroke="#343f9a" stroke-width="0.35">immature</text>
<text transform="translate(451.3,408.4) scale(1,1.04)" font-size="23.5" text-anchor="middle" fill="#939393" stroke="#939393" stroke-width="0.35">control</text>
<text transform="translate(200.7,477.4) scale(1,1)" font-size="27.8" text-anchor="middle" fill="#000" stroke="#000" stroke-width="0.35">BDCA1+ DC</text>
<text transform="translate(414.2,477.4) scale(1,1)" font-size="27.8" text-anchor="middle" fill="#000" stroke="#000" stroke-width="0.35">MoDC</text>
<line x1="93.8" y1="487.7" x2="301.2" y2="487.7" stroke="#111" stroke-width="3"/>
<line x1="306.3" y1="487.7" x2="515.4" y2="487.7" stroke="#111" stroke-width="3"/>
<line x1="93.8" y1="480.5" x2="93.8" y2="496" stroke="#111" stroke-width="3"/>
<line x1="301.2" y1="480.5" x2="301.2" y2="496" stroke="#111" stroke-width="3"/>
<line x1="306.3" y1="480.5" x2="306.3" y2="496" stroke="#111" stroke-width="3"/>
<line x1="515.4" y1="480.5" x2="515.4" y2="496" stroke="#111" stroke-width="3"/>
<line x1="159" y1="512" x2="159" y2="797" stroke="#d2d2d2" stroke-width="2"/>
<line x1="231" y1="512" x2="231" y2="797" stroke="#d2d2d2" stroke-width="2"/>
<line x1="303" y1="512" x2="303" y2="797" stroke="#d2d2d2" stroke-width="2"/>
<line x1="375" y1="512" x2="375" y2="797" stroke="#d2d2d2" stroke-width="2"/>
<line x1="447.3" y1="512" x2="447.3" y2="797" stroke="#d2d2d2" stroke-width="2"/>
<line x1="519.2" y1="512" x2="519.2" y2="797" stroke="#d2d2d2" stroke-width="2"/>
<line x1="87.1" y1="508.7" x2="87.1" y2="799" stroke="#2a2a2a" stroke-width="1.8"/>
<line x1="82" y1="509.6" x2="87.5" y2="509.6" stroke="#2a2a2a" stroke-width="1.8"/>
<text transform="translate(79.5,516.8) scale(1,1.04)" font-size="20.5" text-anchor="end" fill="#000" stroke="#000" stroke-width="0.35">10000</text>
<line x1="82" y1="581.75" x2="87.5" y2="581.75" stroke="#2a2a2a" stroke-width="1.8"/>
<text transform="translate(79.5,588.95) scale(1,1.04)" font-size="20.5" text-anchor="end" fill="#000" stroke="#000" stroke-width="0.35">1000</text>
<line x1="82" y1="653.9" x2="87.5" y2="653.9" stroke="#2a2a2a" stroke-width="1.8"/>
<text transform="translate(79.5,661.1) scale(1,1.04)" font-size="20.5" text-anchor="end" fill="#000" stroke="#000" stroke-width="0.35">100</text>
<line x1="82" y1="726.05" x2="87.5" y2="726.05" stroke="#2a2a2a" stroke-width="1.8"/>
<text transform="translate(79.5,733.25) scale(1,1.04)" font-size="20.5" text-anchor="end" fill="#000" stroke="#000" stroke-width="0.35">10</text>
<line x1="82" y1="798.2" x2="87.5" y2="798.2" stroke="#2a2a2a" stroke-width="1.8"/>
<text transform="translate(79.5,805.4) scale(1,1.04)" font-size="20.5" text-anchor="end" fill="#000" stroke="#000" stroke-width="0.35">1</text>
<line x1="82" y1="798" x2="519" y2="798" stroke="#111" stroke-width="2.4"/>
<line x1="105" y1="798" x2="105" y2="804.5" stroke="#111" stroke-width="2"/>
<text transform="translate(112.4,807.5) rotate(-90) scale(1,1.04)" font-size="22" text-anchor="end" fill="#000" stroke="#000" stroke-width="0.35">-LPS</text>
<line x1="141.03" y1="798" x2="141.03" y2="804.5" stroke="#111" stroke-width="2"/>
<text transform="translate(148.43,807.5) rotate(-90) scale(1,1.04)" font-size="22" text-anchor="end" fill="#000" stroke="#000" stroke-width="0.35">+LPS</text>
<line x1="177.06" y1="798" x2="177.06" y2="804.5" stroke="#111" stroke-width="2"/>
<text transform="translate(184.46,807.5) rotate(-90) scale(1,1.04)" font-size="22" text-anchor="end" fill="#000" stroke="#000" stroke-width="0.35">-LPS</text>
<line x1="213.09" y1="798" x2="213.09" y2="804.5" stroke="#111" stroke-width="2"/>
<text transform="translate(220.49,807.5) rotate(-90) scale(1,1.04)" font-size="22" text-anchor="end" fill="#000" stroke="#000" stroke-width="0.35">+LPS</text>
<line x1="249.12" y1="798" x2="249.12" y2="804.5" stroke="#111" stroke-width="2"/>
<text transform="translate(256.52,807.5) rotate(-90) scale(1,1.04)" font-size="22" text-anchor="end" fill="#000" stroke="#000" stroke-width="0.35">-LPS</text>
<line x1="285.15" y1="798" x2="285.15" y2="804.5" stroke="#111" stroke-width="2"/>
<text transform="translate(292.55,807.5) rotate(-90) scale(1,1.04)" font-size="22" text-anchor="end" fill="#000" stroke="#000" stroke-width="0.35">+LPS</text>
<line x1="321.18" y1="798" x2="321.18" y2="804.5" stroke="#111" stroke-width="2"/>
<text transform="translate(328.58,807.5) rotate(-90) scale(1,1.04)" font-size="22" text-anchor="end" fill="#000" stroke="#000" stroke-width="0.35">-LPS</text>
<line x1="357.21" y1="798" x2="357.21" y2="804.5" stroke="#111" stroke-width="2"/>
<text transform="translate(364.61,807.5) rotate(-90) scale(1,1.04)" font-size="22" text-anchor="end" fill="#000" stroke="#000" stroke-width="0.35">+LPS</text>
<line x1="393.24" y1="798" x2="393.24" y2="804.5" stroke="#111" stroke-width="2"/>
<text transform="translate(400.64,807.5) rotate(-90) scale(1,1.04)" font-size="22" text-anchor="end" fill="#000" stroke="#000" stroke-width="0.35">-LPS</text>
<line x1="429.27" y1="798" x2="429.27" y2="804.5" stroke="#111" stroke-width="2"/>
<text transform="translate(436.67,807.5) rotate(-90) scale(1,1.04)" font-size="22" text-anchor="end" fill="#000" stroke="#000" stroke-width="0.35">+LPS</text>
<line x1="465.3" y1="798" x2="465.3" y2="804.5" stroke="#111" stroke-width="2"/>
<text transform="translate(472.7,807.5) rotate(-90) scale(1,1.04)" font-size="22" text-anchor="end" fill="#000" stroke="#000" stroke-width="0.35">-LPS</text>
<line x1="501.33" y1="798" x2="501.33" y2="804.5" stroke="#111" stroke-width="2"/>
<text transform="translate(508.73,807.5) rotate(-90) scale(1,1.04)" font-size="22" text-anchor="end" fill="#000" stroke="#000" stroke-width="0.35">+LPS</text>
<line x1="93.7" y1="870.5" x2="157" y2="870.5" stroke="#111" stroke-width="3"/>
<line x1="164.5" y1="870.5" x2="228.9" y2="870.5" stroke="#111" stroke-width="3"/>
<line x1="236" y1="870.5" x2="301" y2="870.5" stroke="#111" stroke-width="3"/>
<line x1="308" y1="870.5" x2="371.5" y2="870.5" stroke="#111" stroke-width="3"/>
<line x1="379.2" y1="870.5" x2="442.7" y2="870.5" stroke="#111" stroke-width="3"/>
<line x1="450.2" y1="870.5" x2="514.2" y2="870.5" stroke="#111" stroke-width="3"/>
<text transform="translate(139.2,878.6) rotate(-90) scale(1,1.04)" font-size="28" text-anchor="end" fill="#000" stroke="#000" stroke-width="0.35">MR</text>
<text transform="translate(207,878.6) rotate(-90) scale(1,1.04)" font-size="28" text-anchor="end" fill="#000" stroke="#000" stroke-width="0.35">CD40</text>
<text transform="translate(281.1,878.6) rotate(-90) scale(1,1.04)" font-size="28" text-anchor="end" fill="#000" stroke="#000" stroke-width="0.35">DEC205</text>
<text transform="translate(349.2,878.6) rotate(-90) scale(1,1.04)" font-size="28" text-anchor="end" fill="#000" stroke="#000" stroke-width="0.35">MR</text>
<text transform="translate(423.5,878.6) rotate(-90) scale(1,1.04)" font-size="28" text-anchor="end" fill="#000" stroke="#000" stroke-width="0.35">CD40</text>
<text transform="translate(494,878.6) rotate(-90) scale(1,1.04)" font-size="28" text-anchor="end" fill="#000" stroke="#000" stroke-width="0.35">DEC205</text>
<text transform="translate(19,649.7) rotate(-90) scale(1,1.04)" font-size="27" text-anchor="middle" fill="#000" stroke="#000" stroke-width="0.35">Normalized MFI</text>
<polygon points="105.2,692.14 100.7,700.24 109.7,700.24" fill="#3a48a8"/>
<polygon points="92.3,705.64 87.8,713.74 96.8,713.74" fill="#3a48a8"/>
<polygon points="105.2,712.64 100.7,720.74 109.7,720.74" fill="#3a48a8"/>
<polygon points="105.2,748.14 100.7,756.24 109.7,756.24" fill="#3a48a8"/>
<line x1="95.6" y1="712.8" x2="118.8" y2="712.8" stroke="#000" stroke-width="2.8"/>
<polygon points="141.2,745.64 136.7,753.74 145.7,753.74" fill="#d4424a"/>
<polygon points="128,756.64 123.5,764.74 132.5,764.74" fill="#d4424a"/>
<polygon points="141.2,765.14 136.7,773.24 145.7,773.24" fill="#d4424a"/>
<polygon points="141.2,789.64 136.7,797.74 145.7,797.74" fill="#d4424a"/>
<line x1="131.9" y1="764.2" x2="154.5" y2="764.2" stroke="#000" stroke-width="2.8"/>
<circle cx="177.5" cy="628.9" r="4.3" fill="#3a48a8"/>
<circle cx="177.5" cy="644.6" r="4.3" fill="#3a48a8"/>
<circle cx="184.2" cy="672.3" r="4.3" fill="#3a48a8"/>
<circle cx="177.5" cy="681.2" r="4.3" fill="#3a48a8"/>
<line x1="164.7" y1="649.5" x2="190.7" y2="649.5" stroke="#000" stroke-width="2.8"/>
<circle cx="213.6" cy="606.8" r="4.3" fill="#d4424a"/>
<circle cx="200.4" cy="636" r="4.3" fill="#d4424a"/>
<circle cx="213.6" cy="638.1" r="4.3" fill="#d4424a"/>
<circle cx="213.6" cy="686.8" r="4.3" fill="#d4424a"/>
<line x1="200.4" y1="630.7" x2="226.6" y2="630.7" stroke="#000" stroke-width="2.8"/>
<rect x="245.5" y="688.7" width="8.2" height="8.2" fill="#3a48a8"/>
<rect x="245.4" y="708.4" width="8.2" height="8.2" fill="#3a48a8"/>
<rect x="251.9" y="710.1" width="8.2" height="8.2" fill="#3a48a8"/>
<line x1="236.7" y1="709.8" x2="263" y2="709.8" stroke="#000" stroke-width="2.8"/>
<rect x="281.8" y="668.4" width="8.2" height="8.2" fill="#d4424a"/>
<rect x="274.9" y="694.4" width="8.2" height="8.2" fill="#d4424a"/>
<rect x="288.4" y="694.4" width="8.2" height="8.2" fill="#d4424a"/>
<rect x="281.4" y="696.9" width="8.2" height="8.2" fill="#d4424a"/>
<line x1="273.3" y1="690.7" x2="297.3" y2="690.7" stroke="#000" stroke-width="2.8"/>
<line x1="307.4" y1="646.5" x2="333.6" y2="646.5" stroke="#000" stroke-width="2.8"/>
<polygon points="320.5,628.25 316.15,635.95 324.85,635.95" fill="none" stroke="#3a48a8" stroke-width="1.7" stroke-linejoin="round"/>
<polygon points="327.6,652.05 323.25,659.25 331.95,659.25" fill="none" stroke="#3a48a8" stroke-width="1.7" stroke-linejoin="round"/>
<polygon points="320.2,655.15 315.85,662.45 324.55,662.45" fill="none" stroke="#3a48a8" stroke-width="1.7" stroke-linejoin="round"/>
<line x1="343.7" y1="651.2" x2="370" y2="651.2" stroke="#000" stroke-width="2.8"/>
<polygon points="350,642.35 345.65,649.45 354.35,649.45" fill="none" stroke="#d4424a" stroke-width="1.7" stroke-linejoin="round"/>
<polygon points="356.5,652.45 352.15,659.55 360.85,659.55" fill="none" stroke="#d4424a" stroke-width="1.7" stroke-linejoin="round"/>
<polygon points="363.3,649.15 358.95,656.15 367.65,656.15" fill="none" stroke="#d4424a" stroke-width="1.7" stroke-linejoin="round"/>
<circle cx="380" cy="586.4" r="3.5" fill="none" stroke="#3a48a8" stroke-width="1.7"/>
<circle cx="393.1" cy="594.8" r="3.5" fill="none" stroke="#3a48a8" stroke-width="1.7"/>
<circle cx="393.1" cy="626.9" r="3.5" fill="none" stroke="#3a48a8" stroke-width="1.7"/>
<line x1="380" y1="598.5" x2="406.2" y2="598.5" stroke="#000" stroke-width="2.8"/>
<circle cx="415.8" cy="557.7" r="3.5" fill="none" stroke="#d4424a" stroke-width="1.7"/>
<circle cx="429.2" cy="558.2" r="3.5" fill="none" stroke="#d4424a" stroke-width="1.7"/>
<circle cx="429.2" cy="586.5" r="3.5" fill="none" stroke="#d4424a" stroke-width="1.7"/>
<line x1="416.2" y1="564.3" x2="442.3" y2="564.3" stroke="#000" stroke-width="2.8"/>
<rect x="461.5" y="658.5" width="8.2" height="8.2" fill="none" stroke="#3a48a8" stroke-width="1.8"/>
<rect x="468.5" y="677.7" width="8.2" height="8.2" fill="none" stroke="#3a48a8" stroke-width="1.8"/>
<rect x="461.5" y="686.7" width="8.2" height="8.2" fill="none" stroke="#3a48a8" stroke-width="1.8"/>
<line x1="452.9" y1="676.5" x2="478.9" y2="676.5" stroke="#000" stroke-width="2.8"/>
<rect x="497.9" y="640.7" width="8.2" height="8.2" fill="none" stroke="#d4424a" stroke-width="1.8"/>
<rect x="497.4" y="660.3" width="8.2" height="8.2" fill="none" stroke="#d4424a" stroke-width="1.8"/>
<rect x="504.2" y="658.3" width="8.2" height="8.2" fill="none" stroke="#d4424a" stroke-width="1.8"/>
<line x1="489" y1="656.3" x2="515.3" y2="656.3" stroke="#000" stroke-width="2.8"/>
</svg></body></html>
